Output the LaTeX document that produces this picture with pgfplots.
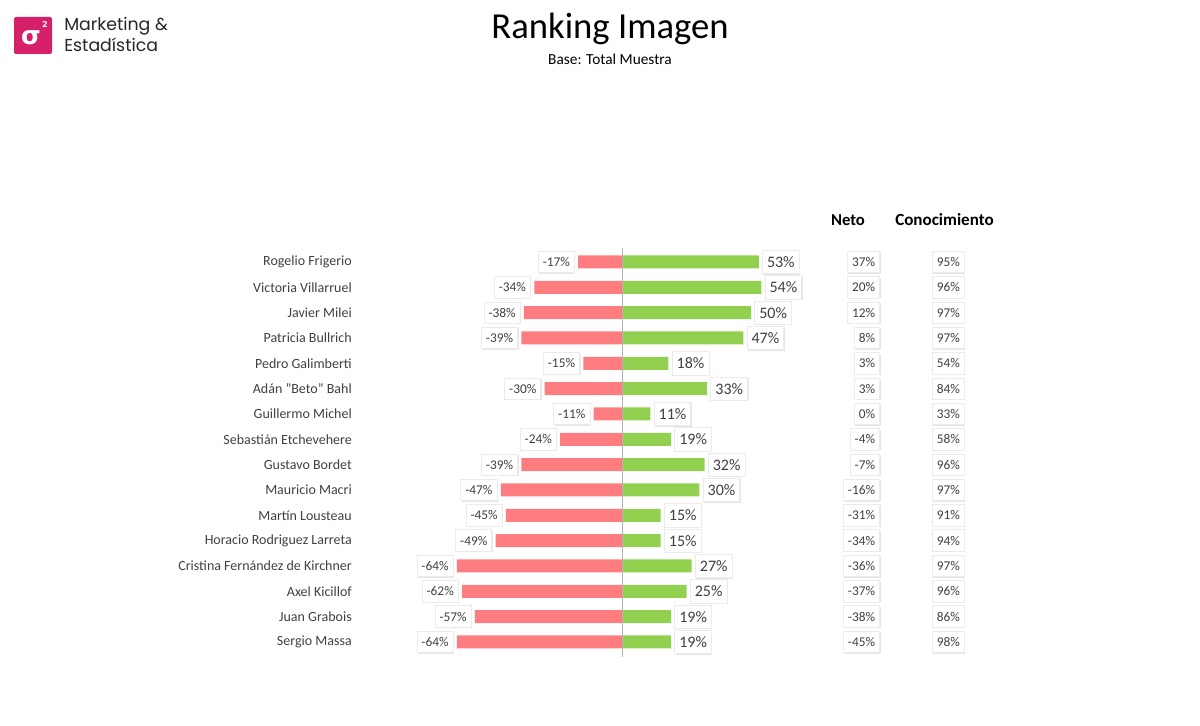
\documentclass[border=0pt]{standalone}
\usepackage{pgfplots}
\pgfplotsset{compat=1.18}
\usepackage{pgfplotstable}
\usepackage{fontspec}
\setmainfont{Carlito}
\newfontfamily\logofont{Poppins}
\newfontfamily\symfont{DejaVu Sans}
\usetikzlibrary{shadows}
\definecolor{negc}{HTML}{FF7C80}
\definecolor{posc}{HTML}{92D050}
\definecolor{logoc}{HTML}{D6206A}
\definecolor{txt}{HTML}{404040}

\pgfplotstableread[col sep=comma]{
i,name,neg,pos,neto,con
0,Rogelio Frigerio,-17,53,37,95
1,Victoria Villarruel,-34,54,20,96
2,Javier Milei,-38,50,12,97
3,Patricia Bullrich,-39,47,8,97
4,Pedro Galimberti,-15,18,3,54
5,Adán "Beto" Bahl,-30,33,3,84
6,Guillermo Michel,-11,11,0,33
7,Sebastián Etchevehere,-24,19,-4,58
8,Gustavo Bordet,-39,32,-7,96
9,Mauricio Macri,-47,30,-16,97
10,Martín Lousteau,-45,15,-31,91
11,Horacio Rodriguez Larreta,-49,15,-34,94
12,Cristina Fernández de Kirchner,-64,27,-36,97
13,Axel Kicillof,-62,25,-37,96
14,Juan Grabois,-57,19,-38,86
15,Sergio Massa,-64,19,-45,98
}\datatable

\tikzset{lbox/.style={fill=white, text=txt, draw=black!8, line width=0.6pt,
  inner xsep=3.4pt, inner ysep=4.6pt,
  drop shadow={shadow xshift=0.7pt, shadow yshift=-0.7pt, opacity=0.2, fill=gray}}}

\begin{document}
\begin{tikzpicture}
\begin{axis}[
  scale only axis, width=900pt, height=543.75pt,
  hide axis,
  xmin=-241.09, xmax=224.03,
  ymin=-10.343, ymax=18.279, y dir=reverse,
  clip=false,
  /pgf/number format/assume math mode=true,
]
\addplot[xbar, bar width=9.75pt, bar shift=0pt, fill=negc, draw=none,
  nodes near coords={\pgfmathprintnumber[assume math mode=true]{\pgfplotspointmeta}\%},
  point meta=x,
  every node near coord/.append style={lbox, anchor=east, xshift=-2.5pt, font=\fontsize{10}{12}\selectfont}]
  table[x=neg, y=i] {\datatable};
\addplot[xbar, bar width=9.75pt, bar shift=0pt, fill=posc, draw=none,
  nodes near coords={\pgfmathprintnumber[assume math mode=true]{\pgfplotspointmeta}\%},
  point meta=x,
  every node near coord/.append style={lbox, anchor=west, xshift=2.5pt, font=\fontsize{12}{14}\selectfont}]
  table[x=pos, y=i] {\datatable};
\draw[gray!60] (axis cs:0,-0.55) -- (axis cs:0,15.6);
% names
\addplot[draw=none, mark=none,
  nodes near coords={\pgfplotspointmeta},
  point meta=explicit symbolic,
  every node near coord/.append style={anchor=east, text=txt, inner sep=0pt, font=\fontsize{10.5}{12}\selectfont}]
  table[x expr=-104.65, y=i, meta=name] {\datatable};
% neto
\addplot[draw=none, mark=none,
  nodes near coords={\pgfmathprintnumber[assume math mode=true]{\pgfplotspointmeta}\%},
  point meta=explicit,
  every node near coord/.append style={lbox, anchor=east, font=\fontsize{10}{12}\selectfont}]
  table[x expr=100, y=i, meta=neto] {\datatable};
% conocimiento
\addplot[draw=none, mark=none,
  nodes near coords={\pgfmathprintnumber[assume math mode=true]{\pgfplotspointmeta}\%},
  point meta=explicit,
  every node near coord/.append style={lbox, anchor=east, font=\fontsize{10}{12}\selectfont}]
  table[x expr=132.9, y=i, meta=con] {\datatable};
\end{axis}
\begin{scope}[shift={(current axis.north west)}, x=0.75pt, y=-0.75pt]
  \node[text=black, font=\fontsize{27.5}{30}\selectfont] at (610,29) {Ranking Imagen};
  \node[text=black, font=\fontsize{11.5}{13}\selectfont] at (610,59) {Base: Total Muestra};
  \node[text=black, font=\bfseries\fontsize{12.5}{14}\selectfont] at (848,220) {Neto};
  \node[text=black, font=\bfseries\fontsize{12.8}{14}\selectfont] at (944.5,220) {Conocimiento};
  \fill[logoc, rounded corners=1.5pt] (14,17) rectangle (52,54);
  \node[text=white, font=\symfont\bfseries\fontsize{19}{20}\selectfont] at (31,38) {σ};
  \node[text=white, font=\symfont\bfseries\fontsize{6}{7}\selectfont] at (45,25) {2};
  \node[anchor=west, inner sep=0pt, text=black!85, font=\logofont\fontsize{13}{15}\selectfont] at (64,26) {Marketing \&};
  \node[anchor=west, inner sep=0pt, text=black!85, font=\logofont\fontsize{13}{15}\selectfont] at (64,45) {Estadística};
\end{scope}
\pgfresetboundingbox
\useasboundingbox (current axis.south west) rectangle (current axis.north east);
\end{tikzpicture}
\end{document}
